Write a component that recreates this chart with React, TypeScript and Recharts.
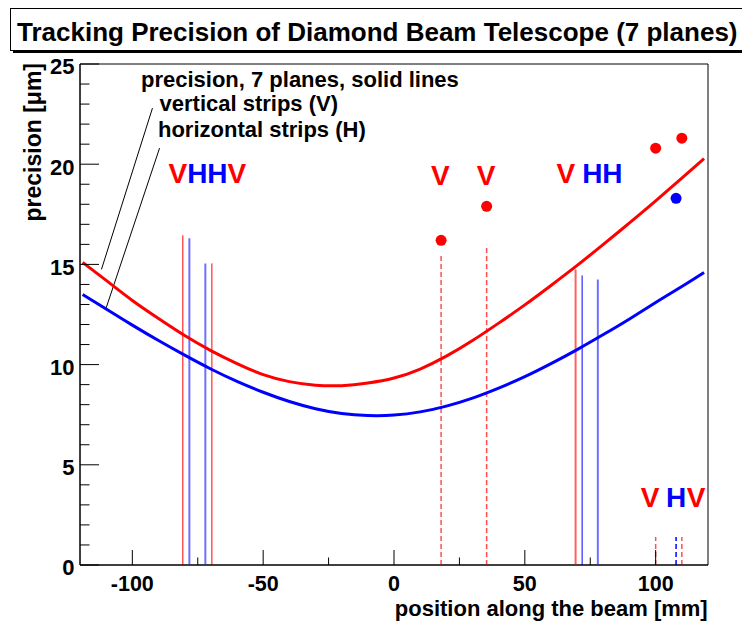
import React from 'react';
import {
  ComposedChart,
  Line,
  Scatter,
  XAxis,
  YAxis,
  ReferenceLine,
  ReferenceArea,
  ReferenceDot,
} from 'recharts';

// ---- data ----
const positions = [-119, -110, -100, -90, -80, -70, -60, -50, -40, -30, -20, -10, 0, 10, 20, 30, 40, 50, 60, 70, 80, 90, 100, 110, 118.5];
const verticalStripsPrecision = [15.1, 14.2, 13.2, 12.3, 11.45, 10.7, 10.05, 9.5, 9.15, 8.97, 8.95, 9.08, 9.33, 9.78, 10.42, 11.2, 12.07, 12.98, 13.95, 14.95, 16.0, 17.07, 18.17, 19.3, 20.28];
const horizontalStripsPrecision = [13.5, 12.77, 11.97, 11.2, 10.47, 9.78, 9.16, 8.62, 8.16, 7.8, 7.56, 7.46, 7.48, 7.64, 7.93, 8.33, 8.83, 9.4, 10.05, 10.75, 11.5, 12.28, 13.1, 13.9, 14.6];

// plane markers: position [mm] and marker height [um]
const solidPlanePositions = [-80.7, -78.2, -72.1, -69.6, 69.4, 71.9, 77.9];
const solidPlaneHeights = [16.45, 16.3, 15.05, 15.05, 14.75, 14.45, 14.25];
const solidPlaneTypes = ['V', 'H', 'H', 'V', 'V', 'H', 'H'];

const dashedPlanePositions = [18.0, 35.4, 100, 107.8, 110];
const dashedPlaneHeights = [15.45, 15.9, 1.4, 1.4, 1.4];
const dashedPlaneTypes = ['V', 'V', 'V', 'H', 'V'];

const verticalPointX = [18.0, 35.4, 100, 110];
const verticalPointY = [16.2, 17.9, 20.8, 21.3];
const horizontalPointX = [107.8];
const horizontalPointY = [18.3];

const xTicks = [-100, -75, -50, -25, 0, 25, 50, 75, 100];
const yTicks = [0, 1, 2, 3, 4, 5, 6, 7, 8, 9, 10, 11, 12, 13, 14, 15, 16, 17, 18, 19, 20, 21, 22, 23, 24, 25];

// ---- derived tables ----
const redCurve = positions.map((x, i) => ({ x, y: verticalStripsPrecision[i] }));
const blueCurve = positions.map((x, i) => ({ x, y: horizontalStripsPrecision[i] }));
const redPoints = verticalPointX.map((x, i) => ({ x, y: verticalPointY[i] }));
const bluePoints = horizontalPointX.map((x, i) => ({ x, y: horizontalPointY[i] }));

const FONT = "'Liberation Sans', Arial, Helvetica, sans-serif";
const RED = '#ff0000';
const BLUE = '#0000ff';

const W = 742;
const H = 613;

const YTick = (props: any) => {
  const { x, y, payload } = props;
  const v = payload.value;
  const major = v % 5 === 0;
  return (
    <g>
      <line x1={x} x2={x + (major ? 19 : 9.5)} y1={y} y2={y} stroke="#000" strokeWidth={1} />
      {major && (
        <text x={x - 5.5} y={y + 10.4} textAnchor="end" fontSize={22} fontWeight="bold" fontFamily={FONT} fill="#000">
          {v}
        </text>
      )}
    </g>
  );
};

const XTick = (props: any) => {
  const { x, y, payload } = props;
  const v = payload.value;
  const major = v % 50 === 0;
  return (
    <g>
      <line x1={x} x2={x} y1={y} y2={y - (major ? 15 : 7.5)} stroke="#000" strokeWidth={1} />
      {major && (
        <text x={x} y={y + 25.5} textAnchor="middle" fontSize={21.5} fontWeight="bold" fontFamily={FONT} fill="#000">
          {v}
        </text>
      )}
    </g>
  );
};

const solidStyle = (t: string, i: number) => {
  const pale = [false, true, true, false, true, false, true][i];
  if (t === 'V') return pale ? { stroke: '#ff6060', strokeWidth: 2 } : { stroke: RED, strokeWidth: 1 };
  return pale ? { stroke: '#7070ff', strokeWidth: 2 } : { stroke: BLUE, strokeWidth: 1 };
};

const textShape = (content: React.ReactNode, anchor: string, size: number, fill = '#000') => (p: any) => (
  <text x={p.cx} y={p.cy} textAnchor={anchor} fontSize={size} fontWeight="bold" fontFamily={FONT} fill={fill}>
    {content}
  </text>
);

const dotShape = (color: string) => (p: any) => <circle cx={p.cx} cy={p.cy} r={5.5} fill={color} />;

export default function App() {
  return (
    <div style={{ position: 'relative', width: W, height: H }}>
      <ComposedChart width={W} height={H} margin={{ top: 56, right: 42, bottom: 16, left: 12 }}>
        <XAxis
          type="number"
          dataKey="x"
          domain={[-120, 120]}
          ticks={xTicks}
          interval={0}
          tick={<XTick />}
          tickLine={false}
          tickSize={0}
          tickMargin={0}
          height={40}
          axisLine={{ stroke: '#000' }}
          allowDataOverflow
        />
        <YAxis
          type="number"
          dataKey="y"
          domain={[0, 25]}
          ticks={yTicks}
          interval={0}
          tick={<YTick />}
          tickLine={false}
          tickSize={0}
          tickMargin={0}
          width={60}
          axisLine={{ stroke: '#000' }}
          allowDataOverflow
        />
        <ReferenceArea x1={-120} x2={120} y1={0} y2={25} fill="none" fillOpacity={0} stroke="#000" strokeWidth={1} />

        {solidPlanePositions.map((x, i) => (
          <ReferenceLine
            key={'s' + i}
            segment={[{ x, y: 0 }, { x, y: solidPlaneHeights[i] }]}
            {...solidStyle(solidPlaneTypes[i], i)}
          />
        ))}
        {dashedPlanePositions.map((x, i) => (
          <ReferenceLine
            key={'d' + i}
            segment={[{ x, y: 0 }, { x, y: dashedPlaneHeights[i] }]}
            stroke={dashedPlaneTypes[i] === 'V' ? '#ff5050' : BLUE}
            strokeWidth={1.5}
            strokeDasharray="5 3"
          />
        ))}

        <ReferenceLine segment={[{ x: -92.3, y: 22.8 }, { x: -111.8, y: 14.75 }]} stroke="#000" strokeWidth={1} />
        <ReferenceLine segment={[{ x: -89.6, y: 20.8 }, { x: -110, y: 12.83 }]} stroke="#000" strokeWidth={1} />

        <Line data={redCurve} dataKey="y" type="natural" stroke={RED} strokeWidth={3} dot={false} isAnimationActive={false} />
        <Line data={blueCurve} dataKey="y" type="natural" stroke={BLUE} strokeWidth={3} dot={false} isAnimationActive={false} />

        <Scatter data={redPoints} dataKey="y" fill={RED} shape={dotShape(RED)} isAnimationActive={false} />
        <Scatter data={bluePoints} dataKey="y" fill={BLUE} shape={dotShape(BLUE)} isAnimationActive={false} />

        <ReferenceDot x={-96.7} y={23.85} r={0} shape={textShape('precision, 7 planes, solid lines', 'start', 22)} />
        <ReferenceDot x={-89.6} y={22.65} r={0} shape={textShape('vertical strips (V)', 'start', 22)} />
        <ReferenceDot x={-90.2} y={21.35} r={0} shape={textShape('horizontal strips (H)', 'start', 22)} />

        <ReferenceDot
          x={-86.2}
          y={19.05}
          r={0}
          shape={textShape(
            <>
              <tspan fill={RED}>V</tspan>
              <tspan fill={BLUE}>HH</tspan>
              <tspan fill={RED}>V</tspan>
            </>,
            'start',
            28
          )}
        />
        <ReferenceDot x={17.7} y={18.95} r={0} shape={textShape('V', 'middle', 28, RED)} />
        <ReferenceDot x={35.2} y={18.95} r={0} shape={textShape('V', 'middle', 28, RED)} />
        <ReferenceDot x={65.7} y={19.05} r={0} shape={textShape('V', 'middle', 28, RED)} />
        <ReferenceDot x={71.9} y={19.05} r={0} shape={textShape('HH', 'start', 28, BLUE)} />
        <ReferenceDot x={97.9} y={2.87} r={0} shape={textShape('V', 'middle', 28, RED)} />
        <ReferenceDot x={107.8} y={2.87} r={0} shape={textShape('H', 'middle', 28, BLUE)} />
        <ReferenceDot x={115.45} y={2.87} r={0} shape={textShape('V', 'middle', 28, RED)} />
      </ComposedChart>

      <svg
        width={W}
        height={H}
        style={{ position: 'absolute', left: 0, top: 0, pointerEvents: 'none', overflow: 'visible' }}
      >
        <rect x={5} y={42} width={745} height={3} fill="#000" />
        <rect x={2.5} y={0.5} width={742} height={42} fill="#fff" stroke="#000" strokeWidth={1} />
        <text x={9} y={32.5} fontSize={26} fontWeight="bold" fontFamily={FONT} fill="#000">
          Tracking Precision of Diamond Beam Telescope (7 planes)
        </text>
        <text
          x={33}
          y={55}
          transform="rotate(-90 33 55)"
          textAnchor="end"
          fontSize={23}
          fontWeight="bold"
          fontFamily={FONT}
          fill="#000"
        >
          precision [μm]
        </text>
        <text x={699.7} y={608} textAnchor="end" fontSize={22} fontWeight="bold" fontFamily={FONT} fill="#000">
          position along the beam [mm]
        </text>
      </svg>
    </div>
  );
}
